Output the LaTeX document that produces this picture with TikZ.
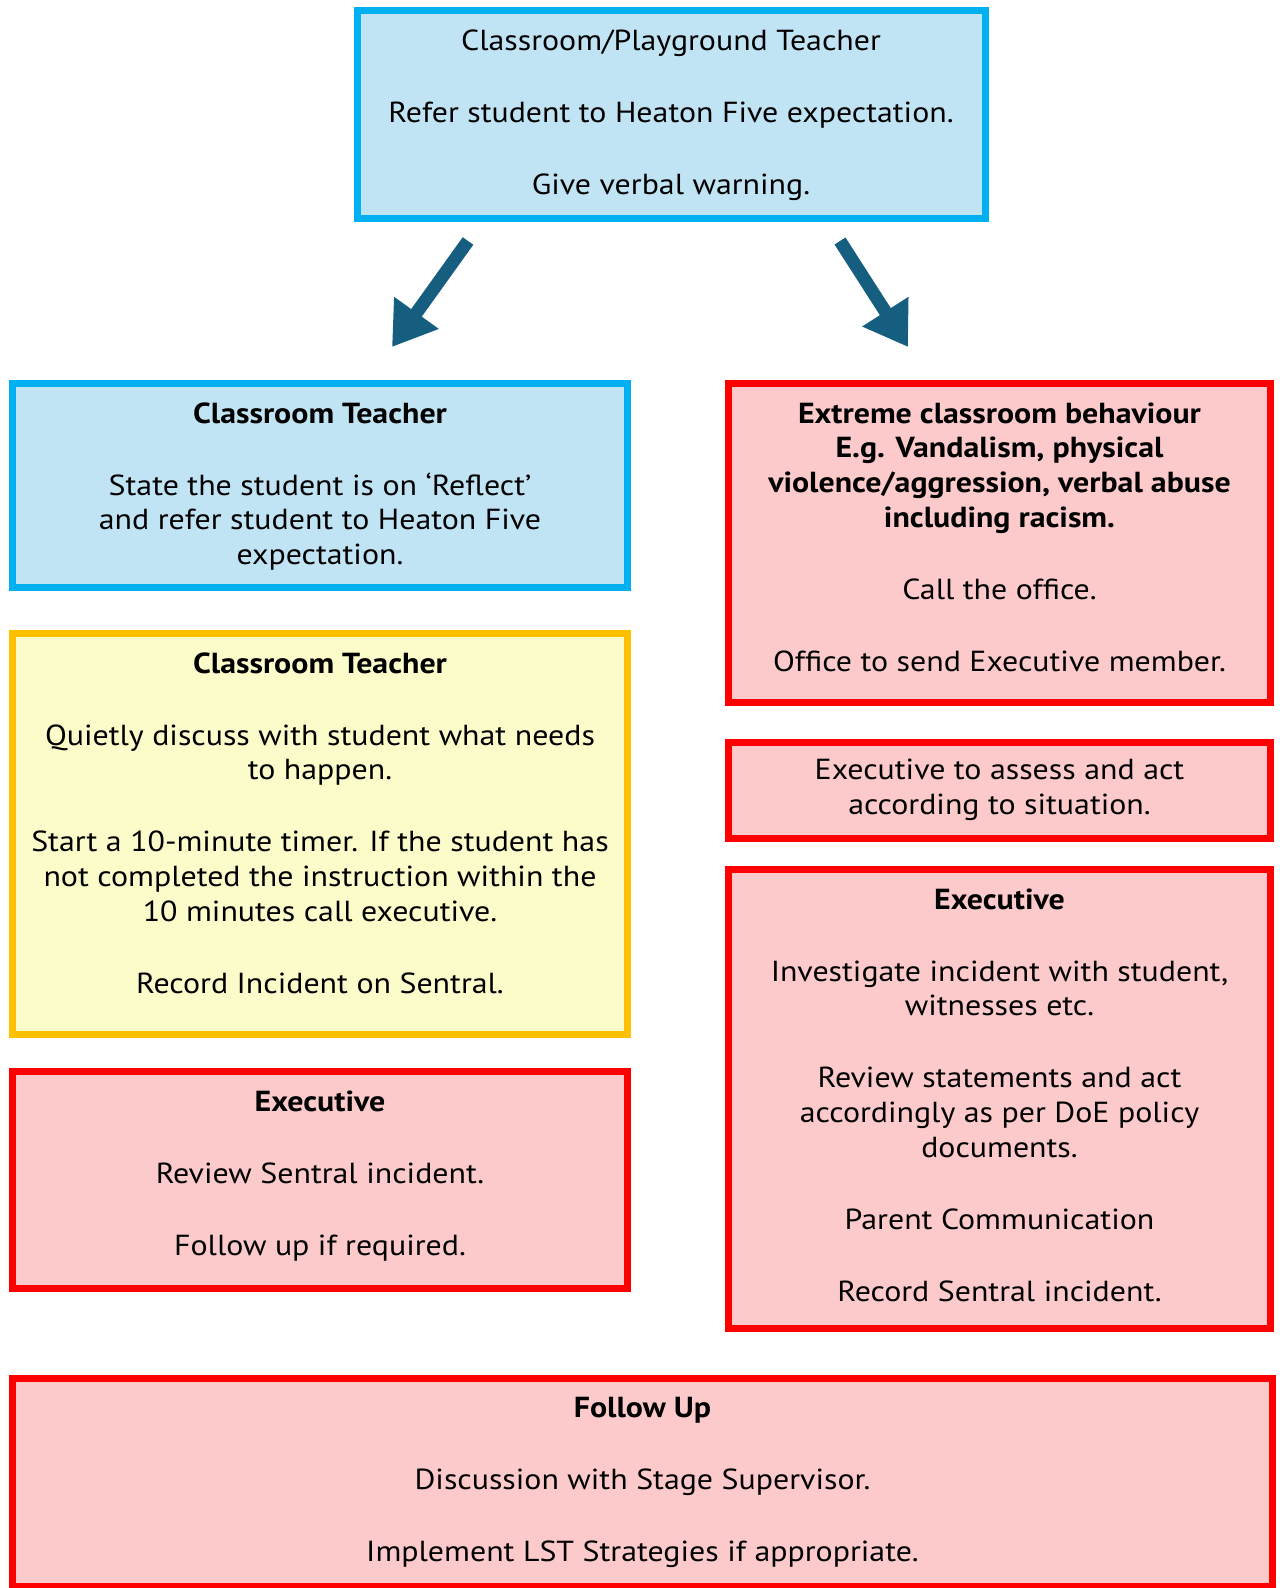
\documentclass[tikz,border=0pt]{standalone}
\usepackage{fontspec}
\setmainfont[FakeStretch=1.1]{PT Sans}
\usetikzlibrary{arrows.meta}

\definecolor{bluebrd}{RGB}{0,176,240}
\definecolor{bluefill}{RGB}{193,228,245}
\definecolor{yelbrd}{RGB}{255,192,0}
\definecolor{yelfill}{RGB}{252,252,202}
\definecolor{redbrd}{RGB}{255,0,0}
\definecolor{redfill}{RGB}{252,202,202}
\definecolor{arrowblue}{RGB}{22,94,128}

\tikzset{
  stepbox/.style={draw, line width=3.5pt, inner sep=0pt},
  bluebox/.style={stepbox, draw=bluebrd, fill=bluefill},
  yelbox/.style={stepbox, draw=yelbrd, fill=yelfill},
  redbox/.style={stepbox, draw=redbrd, fill=redfill},
  boxtext/.style={anchor=north, align=center, inner sep=0pt,
    font=\fontsize{14.5}{17.4}\selectfont},
}

\begin{document}
\begin{tikzpicture}[x=0.5pt, y=-0.5pt]
\useasboundingbox (0,0) rectangle (1279,1588);
% \draw[help lines, step=100] (0,0) grid (1279,1588);
\def\gap{\\[18.6pt]}
\def\txtdrop{-11pt}

% frames
\node[bluebox, minimum width=314pt, minimum height=104pt] (top) at (671,114.5) {};
\node[bluebox, minimum width=307.5pt, minimum height=102pt] (lone) at (320,485.5) {};
\node[yelbox, minimum width=307.5pt, minimum height=200.5pt] (ltwo) at (320,834) {};
\node[redbox, minimum width=307.5pt, minimum height=108.5pt] (lthree) at (320,1180) {};
\node[redbox, minimum width=271pt, minimum height=159.5pt] (rone) at (999.5,543) {};
\node[redbox, minimum width=271pt, minimum height=48pt] (rtwo) at (999.5,790.5) {};
\node[redbox, minimum width=271pt, minimum height=229.5pt] (rthree) at (999.5,1099) {};
\node[redbox, minimum width=630pt, minimum height=104pt] (follow) at (642.5,1482.5) {};

% texts, hung from the top of each frame
\node[boxtext] (toptxt) at ([yshift=\txtdrop]top.north)
  {Classroom/Playground Teacher\gap Refer student to Heaton Five expectation.\gap Give verbal warning.};
\node[boxtext] (lonetxt) at ([yshift=\txtdrop]lone.north)
  {\textbf{Classroom Teacher}\gap State the student is on ‘Reflect’\\ and refer student to Heaton Five\\ expectation.};
\node[boxtext] (ltwotxt) at ([yshift=\txtdrop]ltwo.north)
  {\textbf{Classroom Teacher}\gap Quietly discuss with student what needs\\ to happen.\gap
   Start a 10-minute timer. If the student has\\ not completed the instruction within the\\ 10 minutes call executive.\gap
   Record Incident on Sentral.};
\node[boxtext] (lthreetxt) at ([yshift=\txtdrop]lthree.north)
  {\textbf{Executive}\gap Review Sentral incident.\gap Follow up if required.};
\node[boxtext] (ronetxt) at ([yshift=\txtdrop]rone.north)
  {\textbf{Extreme classroom behaviour}\\ \textbf{E.g. Vandalism, physical}\\
   \textbf{violence/aggression, verbal abuse}\\ \textbf{including racism.}\gap
   Call the office.\gap Office to send Executive member.};
\node[boxtext] (rtwotxt) at ([yshift=\txtdrop+1pt]rtwo.north)
  {Executive to assess and act\\ according to situation.};
\node[boxtext] (rthreetxt) at ([yshift=\txtdrop]rthree.north)
  {\textbf{Executive}\gap Investigate incident with student,\\ witnesses etc.\gap
   Review statements and act\\ accordingly as per DoE policy\\ documents.\gap
   Parent Communication\gap Record Sentral incident.};
\node[boxtext] (followtxt) at ([yshift=\txtdrop]follow.north)
  {\textbf{Follow Up}\gap Discussion with Stage Supervisor.\gap Implement LST Strategies if appropriate.};

\coordinate (la) at (468,241);
\coordinate (lb) at (392,347);
\coordinate (ra) at (840,241);
\coordinate (rb) at (908,347);
\foreach \from/\to in {la/lb, ra/rb}
  \draw[arrowblue, line width=6.5pt, -{Triangle[width=26pt,length=21pt]}] (\from) -- (\to);
\end{tikzpicture}
\end{document}
